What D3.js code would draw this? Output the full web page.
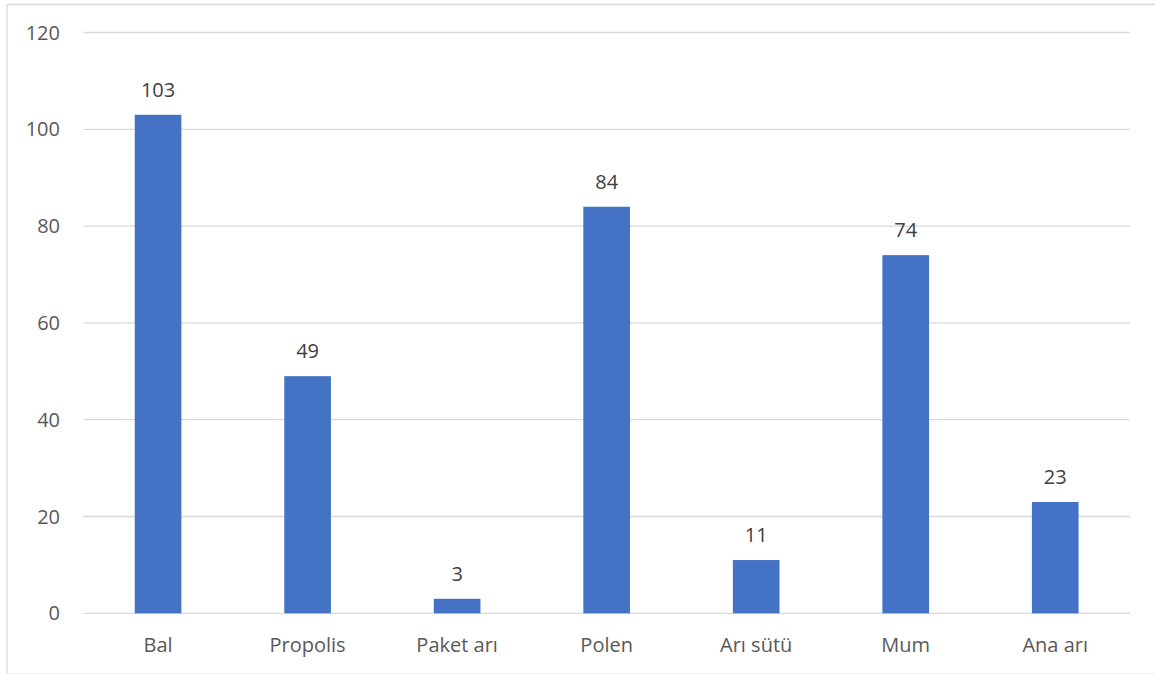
<!DOCTYPE html>
<html><head><meta charset="utf-8">
<script src="https://cdn.jsdelivr.net/npm/d3@7"></script>
<style>body{margin:0;background:#fff}svg{display:block}</style>
</head><body>
<script>
const categories = ["Bal","Propolis","Paket arı","Polen","Arı sütü","Mum","Ana arı"];
const values = [103,49,3,84,11,74,23];
const yTicks = [0,20,40,60,80,100,120];

const W=1155,H=675;
const m={left:83.3,right:1130,top:32.5,bottom:613.3};
const svg=d3.select("body").append("svg").attr("width",W).attr("height",H);
// frame: top and left visible, bottom faint
svg.append("line").attr("x1",7).attr("x2",W).attr("y1",4.5).attr("y2",4.5).attr("stroke","#d9d9d9").attr("stroke-width",1.3);
svg.append("line").attr("x1",7).attr("x2",7).attr("y1",4).attr("y2",673.5).attr("stroke","#d9d9d9").attr("stroke-width",1.3);
svg.append("line").attr("x1",7).attr("x2",W).attr("y1",673.5).attr("y2",673.5).attr("stroke","#f0f0f0").attr("stroke-width",1);

const x=d3.scaleBand().domain(categories).range([m.left,m.right]).padding(0);
const y=d3.scaleLinear().domain([0,120]).range([m.bottom,m.top]);
const font="'Open Sans', sans-serif";
const fs=20;

const g=svg.append("g");
g.selectAll("line.grid").data(yTicks).join("line")
  .attr("x1",m.left).attr("x2",m.right).attr("y1",d=>y(d)).attr("y2",d=>y(d))
  .attr("stroke","#d9d9d9").attr("stroke-width",1.3);
g.selectAll("text.yt").data(yTicks).join("text")
  .attr("x",60).attr("y",d=>y(d)+7).attr("text-anchor","end")
  .attr("font-family",font).attr("font-size",fs).attr("fill","#595959").text(d=>d);

const bw=x.bandwidth()*0.312;
g.selectAll("rect.bar").data(values).join("rect")
  .attr("x",(d,i)=>x(categories[i])+x.bandwidth()/2-bw/2)
  .attr("y",d=>y(d)).attr("width",bw).attr("height",d=>y(0)-y(d))
  .attr("fill","#4472C4");
g.selectAll("text.dl").data(values).join("text")
  .attr("x",(d,i)=>x(categories[i])+x.bandwidth()/2)
  .attr("y",d=>y(d)-18).attr("text-anchor","middle")
  .attr("font-family",font).attr("font-size",fs).attr("fill","#404040").text(d=>d);
g.selectAll("text.cat").data(categories).join("text")
  .attr("x",d=>x(d)+x.bandwidth()/2).attr("y",652).attr("text-anchor","middle")
  .attr("font-family",font).attr("font-size",fs).attr("fill","#595959").text(d=>d);
</script>
</body></html>
